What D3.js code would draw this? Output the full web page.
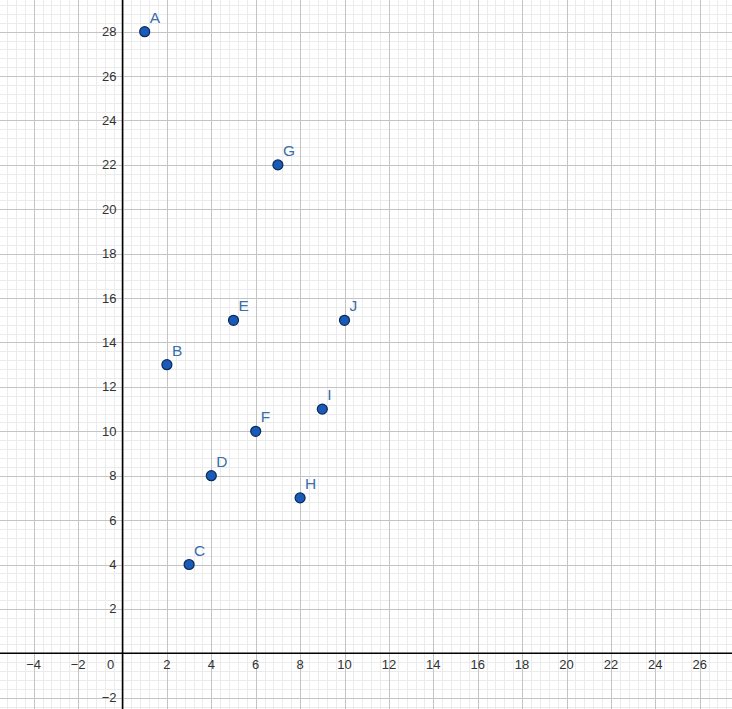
<!DOCTYPE html>
<html><head><meta charset="utf-8">
<script src="https://cdn.jsdelivr.net/npm/d3@7"></script>
<style>html,body{margin:0;padding:0;background:#fff;}svg{display:block;}</style>
</head><body>
<svg id="chart" width="732" height="709"></svg>
<script>
const labels = ["A","B","C","D","E","F","G","H","I","J"];
const xValues = [1,2,3,4,5,6,7,8,9,10];
const yValues = [28,13,4,8,15,10,22,7,11,15];
const xTickLabels = [-4,-2,0,2,4,6,8,10,12,14,16,18,20,22,24,26];
const yTickLabels = [-2,2,4,6,8,10,12,14,16,18,20,22,24,26,28];

const W = 732, H = 709;
const ox = 122.5, oy = 653.3, unit = 22.2;
const x = d3.scaleLinear().domain([-ox/unit, (W-ox)/unit]).range([0, W]);
const y = d3.scaleLinear().domain([-(H-oy)/unit, oy/unit]).range([H, 0]);

const svg = d3.select("#chart");
const grid = svg.append("g");
// minor grid
const minorX = d3.range(Math.ceil(x.domain()[0]/0.4), Math.floor(x.domain()[1]/0.4)+1).map(i=>i*0.4);
const minorY = d3.range(Math.ceil(y.domain()[0]/0.4), Math.floor(y.domain()[1]/0.4)+1).map(i=>i*0.4);
grid.selectAll(".mx").data(minorX).join("line")
  .attr("x1", d=>Math.round(x(d))+0.5).attr("x2", d=>Math.round(x(d))+0.5)
  .attr("y1",0).attr("y2",H).attr("stroke","#ebebeb").attr("stroke-width",1);
grid.selectAll(".my").data(minorY).join("line")
  .attr("y1", d=>Math.round(y(d))+0.5).attr("y2", d=>Math.round(y(d))+0.5)
  .attr("x1",0).attr("x2",W).attr("stroke","#ebebeb").attr("stroke-width",1);
// major grid
const majorX = d3.range(Math.ceil(x.domain()[0]/2), Math.floor(x.domain()[1]/2)+1).map(i=>i*2);
const majorY = d3.range(Math.ceil(y.domain()[0]/2), Math.floor(y.domain()[1]/2)+1).map(i=>i*2);
grid.selectAll(".Mx").data(majorX).join("line")
  .attr("x1", d=>Math.round(x(d))+0.5).attr("x2", d=>Math.round(x(d))+0.5)
  .attr("y1",0).attr("y2",H).attr("stroke","#c4c4c4").attr("stroke-width",1);
grid.selectAll(".My").data(majorY).join("line")
  .attr("y1", d=>Math.round(y(d))+0.5).attr("y2", d=>Math.round(y(d))+0.5)
  .attr("x1",0).attr("x2",W).attr("stroke","#c4c4c4").attr("stroke-width",1);

// axes
svg.append("line").attr("x1",0).attr("x2",W).attr("y1",y(0)).attr("y2",y(0)).attr("stroke","#000").attr("stroke-width",1.5);
svg.append("line").attr("y1",0).attr("y2",H).attr("x1",x(0)).attr("x2",x(0)).attr("stroke","#000").attr("stroke-width",1.5);

const fmt = d => (d<0 ? "\u2212" + Math.abs(d) : String(d));
const tf = "Liberation Sans, Arial, sans-serif";
svg.append("g").selectAll("text").data(xTickLabels).join("text")
  .attr("x", d => d===0 ? x(0)-12 : x(d))
  .attr("y", y(0)+16)
  .attr("text-anchor","middle")
  .attr("font-family",tf).attr("font-size",13).attr("fill","#333")
  .text(fmt);
svg.append("g").selectAll("text").data(yTickLabels).join("text")
  .attr("x", x(0)-6)
  .attr("y", d=>y(d)+4.5)
  .attr("text-anchor","end")
  .attr("font-family",tf).attr("font-size",13).attr("fill","#333")
  .text(fmt);

// points
const pts = labels.map((l,i)=>({l, x:xValues[i], y:yValues[i]}));
svg.append("g").selectAll("circle").data(pts).join("circle")
  .attr("cx", d=>x(d.x)).attr("cy", d=>y(d.y)).attr("r",5)
  .attr("fill","#1a5ab8").attr("stroke","#0b2a55").attr("stroke-width",1.2);
svg.append("g").selectAll("text").data(pts).join("text")
  .attr("x", d=>x(d.x)+5).attr("y", d=>y(d.y)-9)
  .attr("font-family",tf).attr("font-size",15.5).attr("fill","#3a6fa8")
  .text(d=>d.l);
</script>
</body></html>
